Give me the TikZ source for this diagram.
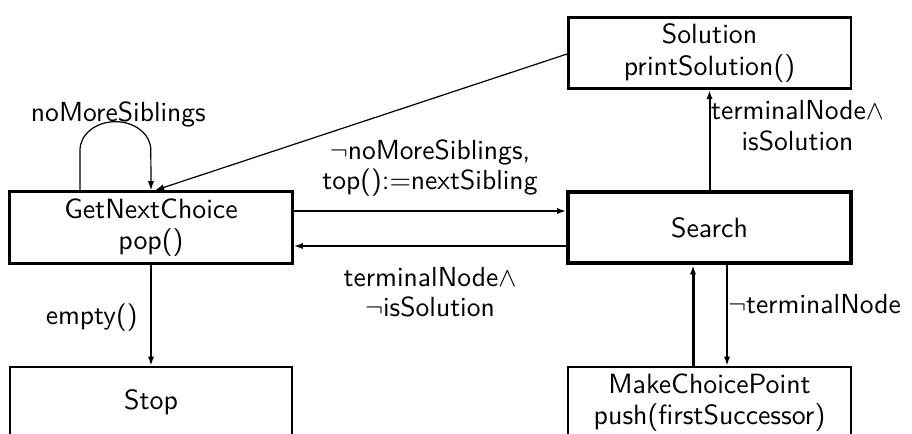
\documentclass[tikz,border=0pt]{standalone}
\usetikzlibrary{arrows.meta,calc}
\begin{document}
\begin{tikzpicture}[x=0.37pt,y=-0.37pt,
  state/.style={draw,rectangle,minimum width=104.5pt,minimum height=26.4pt,
    inner sep=0pt,align=center,font=\fontsize{10.3}{11.6}\selectfont\sffamily},
  lbl/.style={inner sep=0pt,align=center,font=\fontsize{10.2}{11.3}\selectfont\sffamily},
  tip/.style={-{Latex[length=3.4pt,width=2.3pt]}},
  thin/.style={line width=0.45pt},
  norm/.style={line width=0.75pt},
  heavy/.style={line width=1.1pt}]
\useasboundingbox (0,0) rectangle (912,433);
\clip (0,0) rectangle (912,433);

% states
\node[state,line width=1.1pt]  (gnc)    at (151,227.5)   {GetNextChoice\\pop()};
\node[state,line width=0.75pt] (stop)   at (151,402.5)   {Stop};
\node[state,line width=1.5pt]  (search) at (709.5,227.5) {Search};
\node[state,line width=0.9pt]  (sol)    at (709.5,53)    {Solution\\printSolution()};
\node[state,line width=0.75pt] (mcp)    at (709.5,402.5) {MakeChoicePoint\\push(firstSuccessor)};

% transitions
\draw[tip,thin] ($(gnc.north)+(-71,0)$) -- ++(0,-40.3)
  arc[start angle=180,end angle=90,x radius=13.1pt,y radius=10.5pt]
  node[lbl,anchor=base,xshift=1.1pt] {noMoreSiblings}
  arc[start angle=90,end angle=0,x radius=13.1pt,y radius=10.5pt]
  -- (gnc.north);

\draw[tip,thin] ($(sol.west)+(0,1)$) -- ($(gnc.north)+(4,0)$);

\draw[tip,norm] ($(gnc.east)+(0,-16.5)$) -- ($(search.west)+(0,-16.5)$)
  node[lbl,midway,above=5pt] {$\neg$noMoreSiblings,\\top():=nextSibling};

\draw[tip,norm] ($(search.west)+(0,18.5)$) -- ($(gnc.east)+(0,18.5)$)
  node[lbl,midway,below=7.4pt] {terminalNode$\wedge$\\$\neg$isSolution};

\draw[tip,norm] (search.north) -- (sol.south)
  node[lbl,pos=1,anchor=north west,yshift=-3.5pt,xshift=0.2pt] {terminalNode$\wedge$\\isSolution};

\draw[tip,heavy] ($(mcp.north)+(-16.5,0)$) -- ($(search.south)+(-16.5,0)$);

\draw[tip,norm] ($(search.south)+(17.5,0)$) -- ($(mcp.north)+(17.5,0)$)
  node[lbl,midway,anchor=west,yshift=4.4pt] {$\neg$terminalNode};

\draw[tip,norm] (gnc.south) -- (stop.north)
  node[lbl,midway,anchor=east,xshift=-4.6pt,yshift=-0.7pt] {empty()};
\end{tikzpicture}
\end{document}
